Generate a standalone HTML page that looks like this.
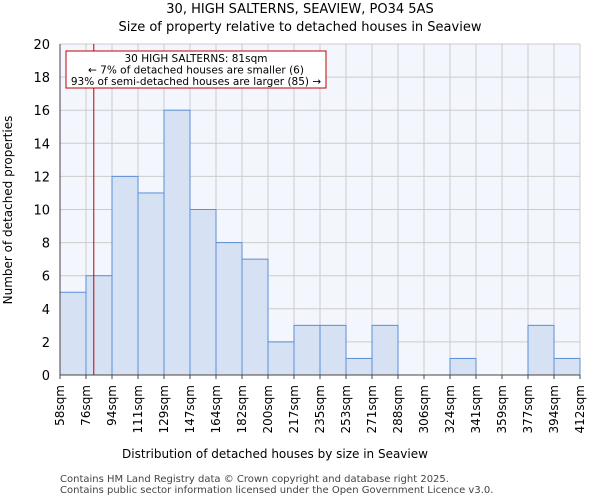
<!DOCTYPE html>
<html><head><meta charset="utf-8"><style>
body{margin:0;background:#fff;font-family:"DejaVu Sans","Liberation Sans",sans-serif}
svg text{font-family:"DejaVu Sans","Liberation Sans",sans-serif}
</style></head><body>
<svg id="chart" width="600" height="500">
<text x="300" y="13" text-anchor="middle" font-size="13">30, HIGH SALTERNS, SEAVIEW, PO34 5AS</text>
<text x="300" y="31" text-anchor="middle" font-size="13">Size of property relative to detached houses in Seaview</text>
<rect x="60" y="44" width="520" height="331" fill="#f3f6fd"/>
<g id="grid"></g><g id="bars"></g><g id="ticks"></g>
<line x1="60" y1="44" x2="60" y2="375" stroke="#444"/>
<line x1="60" y1="375" x2="580" y2="375" stroke="#444"/>
<line id="marker" y1="44" y2="375" stroke="#c00000" stroke-width="1"/>
<g>
<rect x="66" y="51" width="260" height="37" fill="#fff" stroke="#c00000"/>
<text x="196" y="62" text-anchor="middle" font-size="10.5">30 HIGH SALTERNS: 81sqm</text>
<text x="196" y="73.5" text-anchor="middle" font-size="10.5">← 7% of detached houses are smaller (6)</text>
<text x="196" y="85" text-anchor="middle" font-size="10.5">93% of semi-detached houses are larger (85) →</text>
</g>
<text x="275" y="458" text-anchor="middle" font-size="12">Distribution of detached houses by size in Seaview</text>
<text transform="translate(12,210) rotate(-90)" text-anchor="middle" font-size="12">Number of detached properties</text>
<text x="60" y="482" font-size="10" fill="#444">Contains HM Land Registry data © Crown copyright and database right 2025.</text>
<text x="60" y="493" font-size="10" fill="#444">Contains public sector information licensed under the Open Government Licence v3.0.</text>
</svg>
<script>
const tickLabels=["58sqm","76sqm","94sqm","111sqm","129sqm","147sqm","164sqm","182sqm","200sqm","217sqm","235sqm","253sqm","271sqm","288sqm","306sqm","324sqm","341sqm","359sqm","377sqm","394sqm","412sqm"];
const counts=[5,6,12,11,16,10,8,7,2,3,3,1,3,0,0,1,0,0,3,1];
const yTicks=[0,2,4,6,8,10,12,14,16,18,20];
const markerSqm=81, minSqm=58, maxSqm=412;
const NS="http://www.w3.org/2000/svg";
const x0=60,x1=580,y0=375,y1=44;
const bw=(x1-x0)/counts.length;
const xs=i=>x0+i*bw;
const ys=v=>y0-(v/20)*(y0-y1);
function mk(t,a,p){const e=document.createElementNS(NS,t);for(const k in a)e.setAttribute(k,a[k]);p.appendChild(e);return e;}
const grid=document.getElementById('grid'),bars=document.getElementById('bars'),ticks=document.getElementById('ticks');
yTicks.forEach(v=>{
 const l=mk('line',{x1:x0,x2:x1,y1:ys(v),y2:ys(v),stroke:'#ccc'},grid);
 
 
 const t=mk('text',{x:50,y:ys(v)+5,'text-anchor':'end','font-size':13},ticks);
 t.textContent=v;
 
 
});
tickLabels.forEach((s,i)=>{
 const l=mk('line',{x1:xs(i),x2:xs(i),y1:y1,y2:y0,stroke:'#ccc'},grid);
 
 
 const tk=mk('line',{x1:xs(i),x2:xs(i),y1:y0,y2:y0+4,stroke:'#444'},ticks);
 
 
 const t=mk('text',{'text-anchor':'end','font-size':12,transform:`translate(${xs(i)+4},${y0+10}) rotate(-90)`},ticks);
 t.textContent=s;
 
 
});
counts.forEach((c,i)=>{
 if(c<=0)return;
 const r=mk('rect',{x:xs(i),y:ys(c),width:bw,height:y0-ys(c),fill:'#d6e1f4',stroke:'#5b8fd6','stroke-width':1},bars);
 
 
});
const mx=x0+(markerSqm-minSqm)/(maxSqm-minSqm)*(x1-x0);
const m=document.getElementById('marker');m.setAttribute('x1',mx);m.setAttribute('x2',mx);
</script>
</body></html>
